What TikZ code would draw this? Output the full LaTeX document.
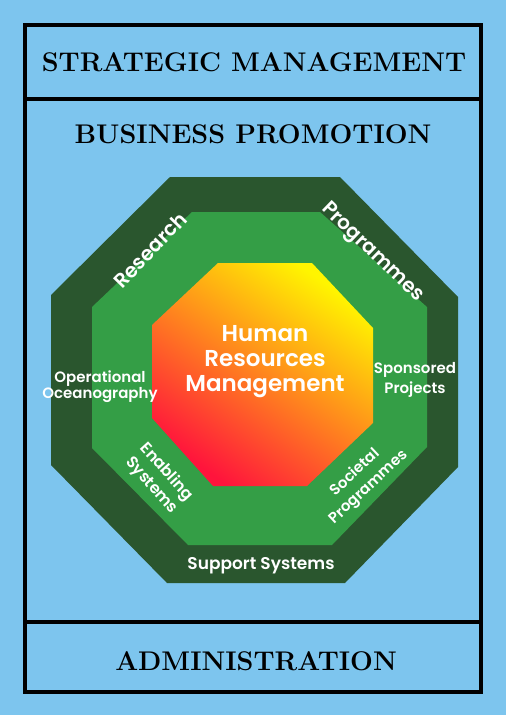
\documentclass[tikz,border=0pt]{standalone}
\usepackage{fontspec}
\newfontfamily\ringfont{Poppins}[BoldFont={* SemiBold}]
\definecolor{skyblue}{RGB}{125,197,238}
\definecolor{darkring}{RGB}{42,86,46}
\definecolor{midring}{RGB}{52,158,70}
\definecolor{hrmred}{RGB}{255,20,60}
\definecolor{hrmorange}{RGB}{255,140,30}
\definecolor{hrmyellow}{RGB}{255,245,0}
\begin{document}
\begin{tikzpicture}[x=1pt, y=-1pt,
    heading/.style={font=\fontsize{27}{29}\selectfont\bfseries},
    ringtext/.style={text=white, align=center, inner sep=0pt}]
  % Background and frame
  \fill[skyblue] (0,0) rectangle (506,715);
  \useasboundingbox (0,0) rectangle (506,715);
  \draw[line width=4pt] (25,25) rectangle (481,692);
  \draw[line width=4pt] (25,99) -- (481,99);
  \draw[line width=4pt] (25,622) -- (481,622);
  % Headings
  \node[heading] (strategic) at (254,62) {STRATEGIC MANAGEMENT};
  \node[heading] (promotion) at (253,134) {BUSINESS PROMOTION};
  \node[heading] (admin) at (256,661) {ADMINISTRATION};
  % Outer ring
  \fill[darkring] (170,177) -- (340,177) -- (458,297) -- (458,467) -- (345,583)
    -- (167,583) -- (51,465) -- (51,295) -- cycle;
  % Inner ring
  \fill[midring] (192,212) -- (320,212) -- (427,307) -- (427,447) -- (332,545)
    -- (188,545) -- (92,448) -- (92,307) -- cycle;
  % Centre
  \shade[top color=hrmyellow, middle color=hrmorange, bottom color=hrmred, shading angle=-35]
    (218,263) -- (312,263) -- (373,328) -- (373,423) -- (307,486)
    -- (213,486) -- (152,418) -- (152,325) -- cycle;
  \node[ringtext, font=\ringfont\bfseries\fontsize{23}{25}\selectfont] (hrm) at (265,362)
    {Human\\Resources\\Management};
  % Ring labels
  \node[ringtext, font=\ringfont\bfseries\fontsize{20}{22}\selectfont, rotate=46] (research) at (150,250) {Research};
  \node[ringtext, font=\ringfont\bfseries\fontsize{20}{22}\selectfont, rotate=-44] (programmes) at (372,253) {Programmes};
  \node[ringtext, font=\ringfont\bfseries\fontsize{16}{20}\selectfont, rotate=-48] (enabling) at (159,479) {Enabling\\Systems};
  \node[ringtext, font=\ringfont\bfseries\fontsize{15}{20}\selectfont, rotate=43] (societal) at (362,480) {Societal\\Programmes};
  \node[ringtext, font=\ringfont\bfseries\fontsize{15}{16}\selectfont] (operational) at (100,387) {Operational\\Oceanography};
  \node[ringtext, font=\ringfont\bfseries\fontsize{15}{20}\selectfont] (sponsored) at (415,380) {Sponsored\\Projects};
  \node[ringtext, font=\ringfont\bfseries\fontsize{17}{18}\selectfont] (support) at (261,566) {Support Systems};
\end{tikzpicture}
\end{document}
